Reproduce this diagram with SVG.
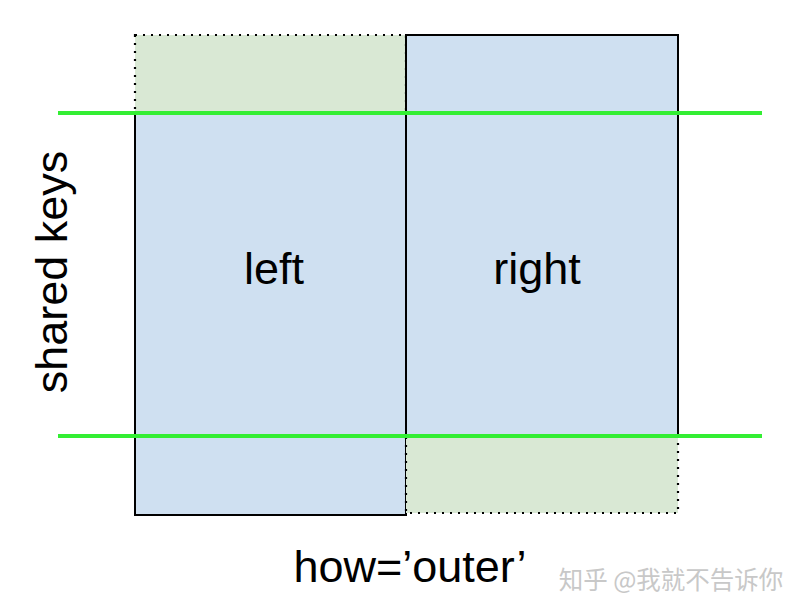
<svg xmlns="http://www.w3.org/2000/svg" width="794" height="613" viewBox="0 0 794 613">
<style>
.txt{font-family:"Liberation Sans",Arial,sans-serif;fill:#000;font-size:45px}
.blue{fill:#cfe0f1;stroke:#000;stroke-width:2}
.extra{fill:#d9e8d4;stroke:#000;stroke-width:2.2;stroke-dasharray:2 6}
.key{stroke:#33ee33;stroke-width:4}
</style>
<rect width="794" height="613" fill="#fff"/>
<g id="left">
<rect class="extra" x="135" y="35" width="271" height="78"/>
<rect class="blue" x="135" y="113" width="271" height="402"/>
<text class="txt" x="274" y="284" text-anchor="middle">left</text>
</g>
<g id="right">
<rect class="extra" x="406" y="435" width="272" height="78"/>
<rect class="blue" x="406" y="35" width="272" height="400"/>
<text class="txt" x="537" y="284" text-anchor="middle">right</text>
</g>
<g id="connectors">
<line class="key" x1="58" y1="113" x2="762" y2="113"/>
<line class="key" x1="58" y1="436" x2="762" y2="436"/>
</g>
<text class="txt" transform="translate(67,272) rotate(-90)" text-anchor="middle">shared keys</text>
<text class="txt" x="410" y="582" text-anchor="middle">how=’outer’</text>
<text x="671" y="589" font-size="24.5" text-anchor="middle" fill="#c8c8c8" font-family="Noto Sans CJK SC,sans-serif">知乎 @我就不告诉你</text>
</svg>
